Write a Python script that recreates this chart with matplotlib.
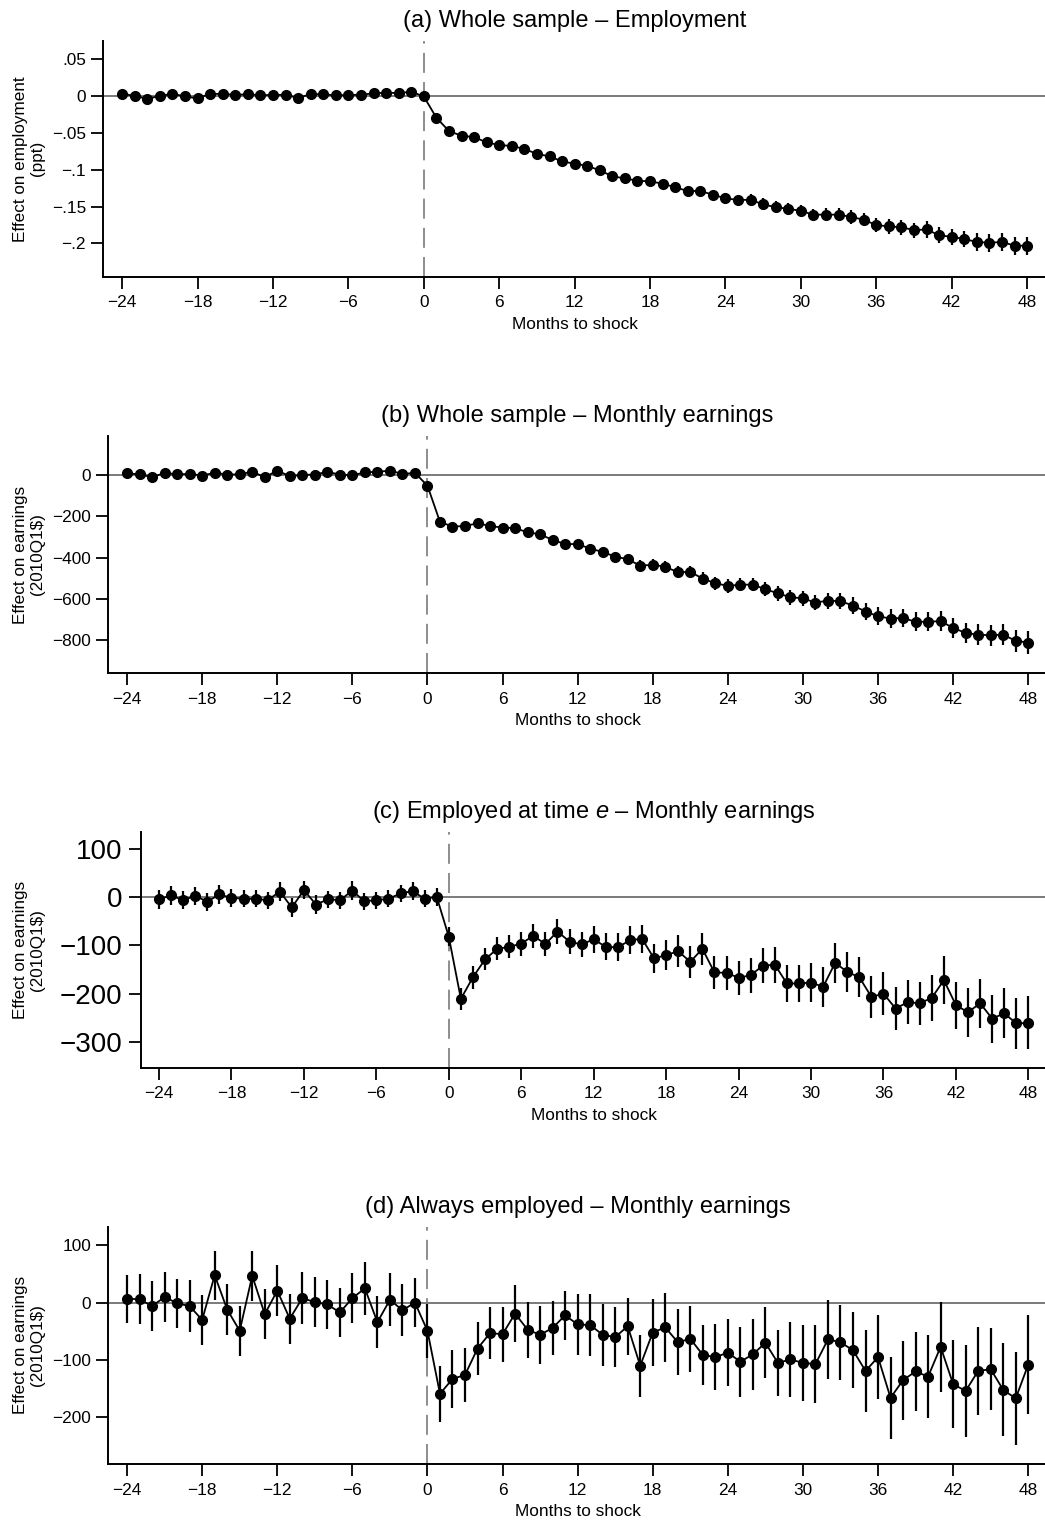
import numpy as np
import matplotlib
matplotlib.use("Agg")
import matplotlib.pyplot as plt

plt.rcParams.update({
    "font.family": ["Liberation Sans", "DejaVu Sans"],
    "mathtext.fontset": "custom",
    "mathtext.rm": "Liberation Sans",
    "mathtext.it": "Liberation Sans:italic",
    "axes.unicode_minus": True,
})

# Event time (months relative to the shock)
months = np.arange(-24, 49)
xticks = np.arange(-24, 49, 6)

# (a) Whole sample - employment (ppt)
emp_coef = [0.003, -0.0005, -0.004, -0.0005, 0.0027, -0.001, -0.0036, 0.0027, 0.0023, 0.0014,
            0.0018, 0.0009, 0.0009, 0.0014, -0.0032, 0.0023, 0.0018, 0.0005, 0.0009, 0.0014,
            0.0032, 0.0041, 0.0036, 0.0054,
            -0.001, -0.0298, -0.0478, -0.0542, -0.056, -0.0632, -0.0668, -0.068, -0.072, -0.0788,
            -0.082, -0.089, -0.092, -0.095, -0.101, -0.109, -0.112, -0.115, -0.116, -0.119,
            -0.124, -0.129, -0.129, -0.134, -0.139, -0.141, -0.141, -0.147, -0.151, -0.153,
            -0.156, -0.161, -0.161, -0.161, -0.164, -0.168, -0.175, -0.177, -0.178, -0.182,
            -0.181, -0.189, -0.191, -0.194, -0.198, -0.199, -0.198, -0.203, -0.203]
emp_ci = [0.002] * 24 + [
    0.001, 0.003, 0.003, 0.003, 0.003, 0.004, 0.004, 0.004, 0.004, 0.005,
    0.005, 0.005, 0.005, 0.005, 0.006, 0.006, 0.006, 0.006, 0.006, 0.006,
    0.007, 0.007, 0.007, 0.007, 0.007, 0.007, 0.008, 0.008, 0.008, 0.008,
    0.008, 0.008, 0.009, 0.009, 0.009, 0.009, 0.009, 0.010, 0.010, 0.010,
    0.011, 0.011, 0.011, 0.011, 0.012, 0.012, 0.012, 0.012, 0.012]

# (b) Whole sample - monthly earnings (2010Q1 $)
earn_all_coef = [8, 3, -11, 10, 3, 5, -3, 11, 2, 3, 16, -11, 21, -6, 0, 2, 15, 2, -2, 13,
                 15, 21, 5, 10,
                 -52, -227, -250, -247, -234, -247, -255, -257, -278, -287, -315, -334, -335,
                 -356, -373, -395, -408, -439, -435, -444, -471, -469, -502, -524, -537, -531,
                 -531, -553, -573, -592, -597, -618, -608, -611, -632, -661, -684, -695, -692,
                 -711, -710, -708, -740, -765, -773, -776, -773, -803, -811]
earn_all_ci = [8] * 24 + [
    8, 12, 13, 13, 14, 14, 15, 15, 16, 17, 18, 19, 20, 21, 22, 23, 24, 25, 26, 27,
    28, 29, 30, 31, 32, 32, 33, 34, 35, 36, 37, 38, 39, 40, 41, 42, 43, 44, 45, 46,
    47, 48, 48, 49, 50, 51, 52, 53, 55]

# (c) Employed at time e - monthly earnings
earn_emp_coef = [-4, 4, -6, 3, -9, 6, -1, -3, -3, -6, 12, -21, 15, -15, -4, -6, 14, -8, -6, -3,
                 8, 13, -3, 1,
                 -82, -211, -166, -129, -107, -103, -96, -80, -97, -71, -92, -98, -87, -103,
                 -104, -89, -86, -127, -120, -112, -134, -107, -156, -157, -167, -162, -142,
                 -140, -179, -179, -177, -186, -136, -155, -166, -207, -200, -231, -218, -220,
                 -209, -172, -224, -239, -220, -252, -241, -262, -261]
earn_emp_ci = [20, 19, 19, 19, 19, 19, 19, 18, 18, 18, 19, 19, 19, 19, 18, 18, 19, 18, 18, 18,
               18, 19, 18, 18,
               20, 23, 24, 23, 24, 24, 25, 25, 25, 26, 26, 25, 28, 28, 29, 29, 29, 30, 32, 33,
               33, 33, 34, 35, 35, 36, 37, 37, 38, 39, 40, 42, 41, 41, 42, 44, 44, 45, 46, 45,
               47, 50, 49, 51, 51, 50, 52, 53, 55]

# (d) Always employed - monthly earnings
earn_always_coef = [7, 6, -6, 10, -1, -6, -30, 48, -12, -49, 47, -20, 21, -28, 8, 1, -3, -17, 8,
                    25, -34, 5, -13, 0,
                    -49, -159, -133, -126, -80, -53, -55, -19, -47, -56, -44, -22, -38, -39,
                    -56, -60, -41, -110, -52, -43, -69, -63, -91, -95, -87, -103, -90, -70,
                    -105, -99, -105, -107, -64, -69, -83, -119, -95, -166, -135, -120, -129,
                    -77, -142, -154, -119, -116, -152, -167, -108]
earn_always_ci = [42, 44, 44, 43, 43, 45, 44, 43, 45, 44, 44, 44, 44, 44, 45, 43, 43, 42, 44, 46,
                  45, 46, 45, 43,
                  47, 49, 50, 47, 46, 46, 48, 50, 49, 51, 47, 43, 53, 54, 54, 53, 50, 54, 59, 60,
                  58, 58, 52, 57, 59, 61, 62, 62, 58, 65, 66, 68, 69, 65, 66, 71, 73, 72, 69, 69,
                  73, 79, 77, 80, 77, 71, 81, 81, 86]

emp_yticks = [0.05, 0, -0.05, -0.1, -0.15, -0.2]
earn_all_yticks = [0, -200, -400, -600, -800]
earn_emp_yticks = [100, 0, -100, -200, -300]
earn_always_yticks = [100, 0, -100, -200]


def fmt_tick(v):
    s = f"{v:g}"
    if s.startswith("0.") or s.startswith("-0."):
        s = s.replace("0.", ".", 1)
    return s.replace("-", "\u2212")


W, H = 1045, 1520
fig = plt.figure(figsize=(W / 100, H / 100), dpi=100)


def axes_px(left, top, right, bottom):
    return fig.add_axes([left / W, 1 - bottom / H, (right - left) / W, (bottom - top) / H])


panels = [
    dict(title="(a) Whole sample \u2013 Employment", coef=emp_coef, ci=emp_ci,
         ylim=(-0.245, 0.0745), yticks=emp_yticks, ysize=12.4,
         ylabel="Effect on employment\n(ppt)", box=(103.3, 40.7, 1046, 276.7)),
    dict(title="(b) Whole sample \u2013 Monthly earnings", coef=earn_all_coef, ci=earn_all_ci,
         ylim=(-960, 190), yticks=earn_all_yticks, ysize=12.4,
         ylabel="Effect on earnings\n(2010Q1$)", box=(108.3, 435.7, 1047, 673.3)),
    dict(title="(c) Employed at time $e$ \u2013 Monthly earnings", coef=earn_emp_coef,
         ci=earn_emp_ci, ylim=(-353.6, 136.4), yticks=earn_emp_yticks, ysize=20,
         ylabel="Effect on earnings\n(2010Q1$)", box=(140.9, 831.7, 1046.5, 1067.5)),
    dict(title="(d) Always employed \u2013 Monthly earnings", coef=earn_always_coef,
         ci=earn_always_ci, ylim=(-281.4, 132.6), yticks=earn_always_yticks, ysize=12.4,
         ylabel="Effect on earnings\n(2010Q1$)", box=(108.3, 1226.7, 1047, 1464)),
]

for p in panels:
    left, top, right, bottom = p["box"]
    ax = axes_px(left, top, right, bottom)
    ax.axhline(0, color="#6f6f6f", lw=1.3, zorder=1)
    ax.axvline(0, color="#7a7a7a", lw=1.2, dashes=(12, 5.5), zorder=1)
    ax.errorbar(months, p["coef"], yerr=p["ci"], fmt="none", ecolor="black",
                elinewidth=1.6, capsize=0, zorder=2)
    ax.plot(months, p["coef"], color="black", lw=1.3, marker="o", ms=7,
            mfc="black", mec="black", zorder=3)

    ax.set_xlim(-25.5, 49.5)
    ax.set_ylim(*p["ylim"])
    ax.set_xticks(xticks)
    ax.set_xticklabels([fmt_tick(v) for v in xticks])
    ax.set_yticks(p["yticks"])
    ax.set_yticklabels([fmt_tick(v) for v in p["yticks"]])

    for side in ("top", "right"):
        ax.spines[side].set_visible(False)
    for side in ("left", "bottom"):
        ax.spines[side].set_linewidth(1.4)
        ax.spines[side].set_color("black")
    ax.tick_params(axis="both", direction="out", length=8.5, width=1.3, color="black")
    ax.tick_params(axis="x", labelsize=12.4, pad=5)
    ax.tick_params(axis="y", labelsize=p["ysize"], pad=4 if p["ysize"] < 15 else 5)

    ax.set_xlabel("Months to shock", fontsize=12.4, labelpad=4.5)
    ax.set_title(p["title"], fontsize=17, pad=10)
    fig.text(29 / W, 1 - (top + bottom) / 2 / H, p["ylabel"], rotation=90,
             ha="center", va="center", fontsize=12.3, linespacing=1.2)

fig.savefig("out.png", dpi=100, facecolor="white")
